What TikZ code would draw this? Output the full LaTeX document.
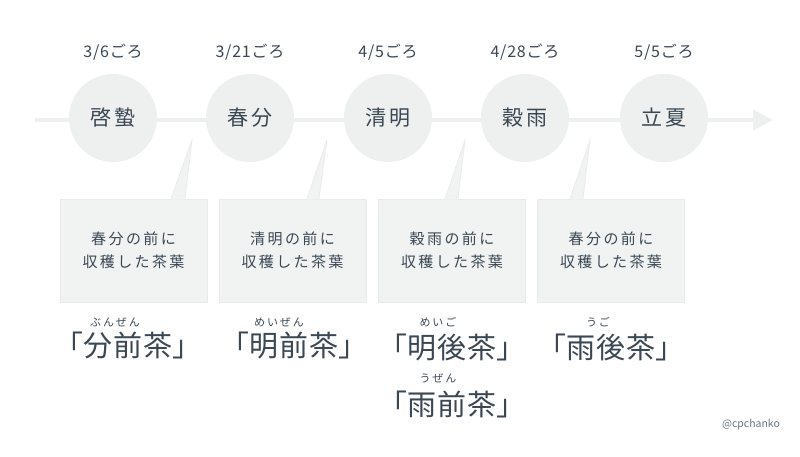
\documentclass[tikz,border=0pt]{standalone}
\usepackage{fontspec}
\setmainfont{Noto Sans CJK JP}
\usetikzlibrary{arrows.meta,calc}
\definecolor{ink}{HTML}{3B4854}
\definecolor{linec}{HTML}{EDF0EF}
\definecolor{circfill}{HTML}{EDF0EF}
\definecolor{boxfill}{HTML}{F1F3F2}
\definecolor{boxdraw}{HTML}{E8EBEA}
\definecolor{markc}{HTML}{6B7580}
\tikzset{
  every node/.style={inner sep=0pt, text=ink},
  circ/.style={circle, fill=circfill, minimum size=88pt,
    font=\fontsize{21}{21}\selectfont\addfontfeatures{LetterSpace=15}},
  datel/.style={font=\fontsize{16}{16}\selectfont\addfontfeatures{LetterSpace=5}},
  tbox/.style={rectangle, fill=boxfill, draw=boxdraw, line width=0.7pt,
    minimum width=147pt, minimum height=103pt, align=center,
    font=\fontsize{15}{23}\selectfont\addfontfeatures{LetterSpace=16}},
  ptrfill/.style={fill=boxfill},
  ptredge/.style={draw=boxdraw, line width=0.7pt},
  cha/.style={font=\fontsize{29}{29}\selectfont\addfontfeatures{RawFeature=+palt,LetterSpace=3}},
  furi/.style={font=\fontsize{11}{11}\selectfont\addfontfeatures{LetterSpace=18}},
  wmark/.style={text=markc, font=\fontsize{10.5}{10.5}\selectfont}
}
\begin{document}
\begin{tikzpicture}[x=1pt,y=-1pt]
\useasboundingbox (0,0) rectangle (800,456);
\fill[white] (0,0) rectangle (800,456);
% timeline
\coordinate (tstart) at (35,120);
\coordinate (tend) at (773,120);
\draw[line width=4pt, linec, -{Triangle[length=20pt,width=20pt]}] (tstart) -- (tend);
% circles
\node[circ] (c1) at (113,118) {啓蟄};
\node[circ] (c2) at (250,118) {春分};
\node[circ] (c3) at (388,118) {清明};
\node[circ] (c4) at (525,118) {穀雨};
\node[circ] (c5) at (664,118) {立夏};
% dates
\node[datel] (d1) at (113,52) {3/6ごろ};
\node[datel] (d2) at (250,52) {3/21ごろ};
\node[datel] (d3) at (388,52) {4/5ごろ};
\node[datel] (d4) at (525,52) {4/28ごろ};
\node[datel] (d5) at (664,52) {5/5ごろ};
% boxes
\node[tbox] (b1) at (133.5,250.5) {春分の前に\\収穫した茶葉};
\node[tbox] (b2) at (292.5,250.5) {清明の前に\\収穫した茶葉};
\node[tbox] (b3) at (452,250.5) {穀雨の前に\\収穫した茶葉};
\node[tbox] (b4) at (611,250.5) {春分の前に\\収穫した茶葉};
% pointer tips
\coordinate (p1) at (192,140);
\coordinate (p2) at (327,140);
\coordinate (p3) at (465,140);
\coordinate (p4) at (590,140);
% pointers
\fill[ptrfill] ($(b1.north)+(37.5,1)$) -- (p1) -- ($(b1.north)+(51.5,1)$) -- cycle;
\draw[ptredge] ($(b1.north)+(37.5,0)$) -- (p1) -- ($(b1.north)+(51.5,0)$);
\fill[ptrfill] ($(b2.north)+(14.5,1)$) -- (p2) -- ($(b2.north)+(26.5,1)$) -- cycle;
\draw[ptredge] ($(b2.north)+(14.5,0)$) -- (p2) -- ($(b2.north)+(26.5,0)$);
\fill[ptrfill] ($(b3.north)+(-7,1)$) -- (p3) -- ($(b3.north)+(6,1)$) -- cycle;
\draw[ptredge] ($(b3.north)+(-7,0)$) -- (p3) -- ($(b3.north)+(6,0)$);
\fill[ptrfill] ($(b4.north)+(-41,1)$) -- (p4) -- ($(b4.north)+(-28,1)$) -- cycle;
\draw[ptredge] ($(b4.north)+(-41,0)$) -- (p4) -- ($(b4.north)+(-28,0)$);
% tea names
\node[cha] (l1) at (128,345) {「分前茶」};
\node[cha] (l2) at (294,345) {「明前茶」};
\node[cha] (l3) at (452,347) {「明後茶」};
\node[cha] (l4) at (611,347) {「雨後茶」};
\node[cha] (l5) at (452,404) {「雨前茶」};
% furigana
\node[furi] (f1) at (115,322) {ぶんぜん};
\node[furi] (f2) at (279,322) {めいぜん};
\node[furi] (f3) at (438,322) {めいご};
\node[furi] (f4) at (598,322) {うご};
\node[furi] (f5) at (438,378) {うぜん};
% watermark
\node[wmark] (wm) at (751,425) {@cpchanko};
\end{tikzpicture}
\end{document}
